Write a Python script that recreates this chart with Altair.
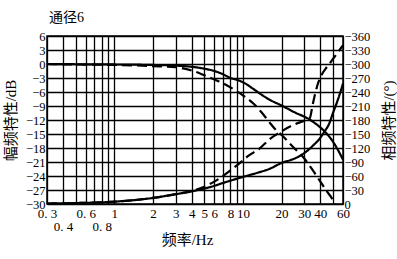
import altair as alt
import pandas as pd

# ---- data ----
amp_solid_f = [0.3, 0.5, 1, 2, 3, 4, 5, 6, 7, 8, 9, 10, 12, 14, 16, 20, 25, 33, 40, 43, 50, 55, 60]
amp_solid_db = [0, -0.05, -0.1, -0.2, -0.35, -0.6, -1.0, -1.5, -2.2, -3.0, -3.4, -3.9, -5.3, -6.6, -7.6, -8.9, -10.3, -11.9, -13.6, -14.4, -16.6, -18.5, -20.5]

amp_dash_f = [0.3, 0.5, 1, 2, 3, 4, 5, 6, 7, 8, 9.5, 12, 14, 16, 18, 20, 25, 28.5, 35, 40, 45, 50, 52]
amp_dash_db = [0, -0.1, -0.2, -0.45, -0.7, -1.4, -2.4, -3.3, -4.1, -5.0, -6.3, -8.4, -10.4, -12.4, -14.1, -15.2, -18.0, -19.5, -22.8, -25.2, -27.3, -29.1, -30]

ph_solid_f = [0.3, 0.5, 1, 2, 3, 4, 5, 6, 7, 8, 10, 13, 16, 20, 25, 28.5, 32, 35, 39.5, 43, 47, 50, 55, 60]
ph_solid_deg = [-1, -2, -5, -13, -21, -27, -33, -39, -45, -50, -58, -67, -75, -88, -97, -105, -115, -125, -140, -155, -173, -194, -225, -258]

ph_dash_f = [0.3, 0.5, 1, 2, 3, 4, 5, 6, 7, 8, 9.5, 11, 13.5, 16, 19, 24, 29, 33, 35, 38, 40.3, 44, 47, 53, 60]
ph_dash_deg = [-1, -2, -5, -13, -21, -28, -37, -48, -60, -72, -88, -103, -119, -138, -152, -168, -177, -183, -215, -255, -273, -290, -300, -320, -340]

x_grid = [0.3, 0.4, 0.5, 0.6, 0.7, 0.8, 0.9, 1, 2, 3, 4, 5, 6, 7, 8, 9, 10, 20, 30, 40, 50, 60]
x_labels_row1 = {0.3: "0. 3", 0.6: "0. 6", 1: "1", 2: "2", 3: "3", 4: "4", 5: "5", 6: "6",
                 8: "8", 10: "10", 20: "20", 30: "30", 40: "40", 60: "60"}
x_labels_row2 = {0.4: "0. 4", 0.8: "0. 8"}

amp_ticks = list(range(-30, 7, 3))
phase_ticks = list(range(-360, 1, 30))

FONT = "Liberation Serif, Noto Sans CJK SC"

# ---- tables ----
amp_df = pd.concat([
    pd.DataFrame({"f": amp_solid_f, "v": amp_solid_db, "style": "solid"}),
    pd.DataFrame({"f": amp_dash_f, "v": amp_dash_db, "style": "dashed"}),
])
ph_df = pd.concat([
    pd.DataFrame({"f": ph_solid_f, "v": ph_solid_deg, "style": "solid"}),
    pd.DataFrame({"f": ph_dash_f, "v": ph_dash_deg, "style": "dashed"}),
])

# x label expression built from the label lists
expr = "''"
for val, lab in x_labels_row1.items():
    expr = f"abs(datum.value - {val}) < 1e-6 ? '{lab}' : ({expr})"
for val, lab in x_labels_row2.items():
    expr = f"abs(datum.value - {val}) < 1e-6 ? [' ', '{lab}'] : ({expr})"

y_label_expr = "datum.value < 0 ? '\u2212' + abs(datum.value) : '' + datum.value"

x_enc = alt.X(
    "f:Q",
    scale=alt.Scale(type="log", domain=[0.3, 60], nice=False),
    axis=alt.Axis(
        values=x_grid, labelExpr=expr, title="频率/Hz", grid=True,
        gridColor="black", gridWidth=1.3, gridOpacity=1,
        ticks=False, domain=False, labelPadding=3, labelOverlap=False,
        labelFont=FONT, labelFontSize=13, labelLineHeight=13.5,
        labelColor="black", titleFont=FONT, titleFontSize=15,
        titleFontWeight="normal", titleColor="black",
        titleX=140, titleY=35, titleBaseline="middle", titleAlign="center",
        labelFlush=False,
    ),
)

dash = alt.StrokeDash(
    "style:N",
    scale=alt.Scale(domain=["solid", "dashed"], range=[[1, 0], [10, 5]]),
    legend=None,
)

amp = alt.Chart(amp_df).mark_line(color="black", strokeWidth=2.2, interpolate="monotone").encode(
    x=x_enc,
    y=alt.Y(
        "v:Q",
        scale=alt.Scale(domain=[-30, 6], nice=False, zero=False),
        axis=alt.Axis(
            orient="left", values=amp_ticks, grid=True, gridColor="black",
            gridWidth=1.3, gridOpacity=1, ticks=False, domain=False,
            labelExpr=y_label_expr,
            labelFont=FONT, labelFontSize=12.5, labelColor="black", labelPadding=2,
            labelOverlap=False, labelFlush=False,
            title="幅频特性/dB", titleFont=FONT, titleFontSize=15,
            titleFontWeight="normal", titleColor="black",
            titleX=-37, titleY=84, titleAngle=270, titleBaseline="middle", titleAlign="center",
        ),
    ),
    strokeDash=dash,
)

ph = alt.Chart(ph_df).mark_line(color="black", strokeWidth=2.2, interpolate="monotone").encode(
    x=alt.X("f:Q", scale=alt.Scale(type="log", domain=[0.3, 60], nice=False)),
    y=alt.Y(
        "v:Q",
        scale=alt.Scale(domain=[-360, 0], nice=False, reverse=True),
        axis=alt.Axis(
            orient="right", values=phase_ticks, grid=False, ticks=False, domain=False,
            labelExpr=y_label_expr,
            labelFont=FONT, labelFontSize=12.5, labelColor="black", labelPadding=1,
            labelOverlap=False, labelFlush=False,
            title="相频特性/(°)", titleFont=FONT, titleFontSize=15,
            titleFontWeight="normal", titleColor="black",
            titleX=45, titleY=84, titleAngle=270, titleBaseline="middle", titleAlign="center",
        ),
    ),
    strokeDash=dash,
)

chart = alt.layer(amp, ph).resolve_scale(y="independent").properties(
    width=296, height=168,
    title=alt.TitleParams("通径6", anchor="start", frame="group", fontSize=14,
                          font=FONT, fontWeight="normal", color="black", offset=5, dx=2),
    autosize=alt.AutoSizeParams(type="none"),
    padding={"left": 47, "top": 36, "right": 54, "bottom": 55},
).configure_view(stroke="black", strokeWidth=1.5)

chart.save("out.html", embed_options={"renderer": "svg", "actions": False})
